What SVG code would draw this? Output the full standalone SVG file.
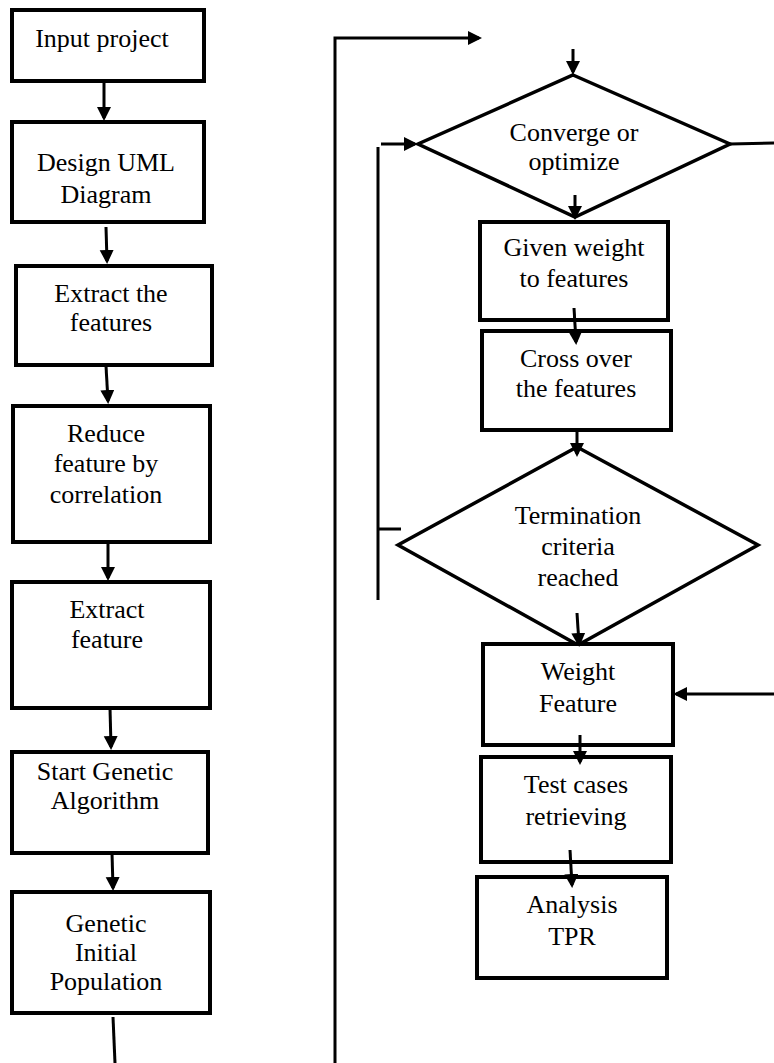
<svg xmlns="http://www.w3.org/2000/svg" width="774" height="1063" viewBox="0 0 774 1063">
<defs>
<style>
.box{fill:#fff;stroke:#000;stroke-width:4}
.dia{fill:#fff;stroke:#000;stroke-width:3.5}
.ln{fill:none;stroke:#000;stroke-width:3}
.arr{fill:none;stroke:#000;stroke-width:3;marker-end:url(#ah)}
text{font-family:"Liberation Serif","Times New Roman",serif;font-size:26px;fill:#000;text-anchor:middle}
</style>
<marker id="ah" markerUnits="userSpaceOnUse" markerWidth="15" markerHeight="15" refX="11" refY="7" orient="auto">
<path d="M0,0 L14,7 L0,14 z" fill="#000"/>
</marker>
</defs>
<rect width="774" height="1063" fill="#fff"/>
<g id="n1"><rect class="box" x="12" y="10" width="192" height="71"/><text x="102" y="47">Input project</text></g>
<g id="n2"><rect class="box" x="12" y="122" width="192" height="100"/><text x="106" y="171">Design UML</text><text x="106" y="203">Diagram</text></g>
<g id="n3"><rect class="box" x="16" y="266" width="196" height="99"/><text x="111" y="302">Extract the</text><text x="111" y="331">features</text></g>
<g id="n4"><rect class="box" x="13" y="406" width="197" height="136"/><text x="106" y="442">Reduce</text><text x="106" y="472">feature by</text><text x="106" y="503">correlation</text></g>
<g id="n5"><rect class="box" x="12" y="582" width="198" height="126"/><text x="107" y="618">Extract</text><text x="107" y="648">feature</text></g>
<g id="n6"><rect class="box" x="12" y="752" width="196" height="101"/><text x="105" y="780">Start Genetic</text><text x="105" y="809">Algorithm</text></g>
<g id="n7"><rect class="box" x="12" y="892" width="198" height="121"/><text x="106" y="932">Genetic</text><text x="106" y="961">Initial</text><text x="106" y="990">Population</text></g>
<g id="d1"><polygon class="dia" points="573,75 730,144 575,217 418,144"/><text x="574" y="141">Converge or</text><text x="574" y="170">optimize</text></g>
<g id="n8"><rect class="box" x="480" y="222" width="188" height="98"/><text x="574" y="256">Given weight</text><text x="574" y="287">to features</text></g>
<g id="n9"><rect class="box" x="482" y="331" width="189" height="99"/><text x="576" y="367">Cross over</text><text x="576" y="397">the features</text></g>
<g id="d2"><polygon class="dia" points="577,447 758,545 578,645 398,545"/><text x="578" y="524">Termination</text><text x="578" y="555">criteria</text><text x="578" y="586">reached</text></g>
<g id="n10"><rect class="box" x="483" y="644" width="190" height="101"/><text x="578" y="680">Weight</text><text x="578" y="712">Feature</text></g>
<g id="n11"><rect class="box" x="481" y="757" width="190" height="105"/><text x="576" y="793">Test cases</text><text x="576" y="825">retrieving</text></g>
<g id="n12"><rect class="box" x="477" y="877" width="190" height="101"/><text x="572" y="913">Analysis</text><text x="572" y="945">TPR</text></g>
<g id="connectors">
<line class="arr" x1="104" y1="82" x2="104" y2="118"/>
<line class="arr" x1="106" y1="227" x2="107" y2="261"/>
<line class="arr" x1="106" y1="366" x2="108" y2="401"/>
<line class="arr" x1="108" y1="542" x2="108" y2="578"/>
<line class="arr" x1="110" y1="708" x2="111" y2="747"/>
<line class="arr" x1="112" y1="853" x2="113" y2="888"/>
<line class="ln" x1="113" y1="1017" x2="115" y2="1063"/>
<polyline class="arr" points="335,1063 335,38 479,38"/>
<line class="arr" x1="573" y1="49" x2="573" y2="72"/>
<line class="arr" x1="381" y1="144" x2="415" y2="144"/>
<line class="ln" x1="378" y1="147" x2="378" y2="600"/>
<line class="ln" x1="377" y1="529" x2="401" y2="529"/>
<line class="ln" x1="730" y1="144" x2="774" y2="143"/>
<line class="arr" x1="575" y1="195" x2="575" y2="217"/>
<line class="arr" x1="574" y1="308" x2="576" y2="342"/>
<line class="arr" x1="577" y1="430" x2="577" y2="454"/>
<line class="arr" x1="577" y1="613" x2="579" y2="644"/>
<line class="arr" x1="774" y1="694" x2="676" y2="694"/>
<line class="arr" x1="580" y1="735" x2="580" y2="762"/>
<line class="arr" x1="570" y1="850" x2="572" y2="885"/>
</g>
</svg>
